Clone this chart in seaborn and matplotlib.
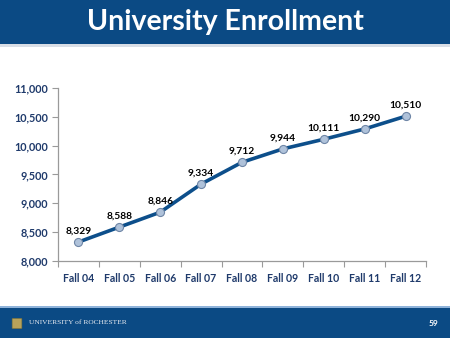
import matplotlib
matplotlib.use("Agg")
import matplotlib.pyplot as plt
import matplotlib.patches as mpatches
from matplotlib.ticker import FixedLocator, FuncFormatter
import numpy as np
import pandas as pd
import seaborn as sns

terms = ["Fall 04", "Fall 05", "Fall 06", "Fall 07", "Fall 08",
         "Fall 09", "Fall 10", "Fall 11", "Fall 12"]
enrollment = [8329, 8588, 8846, 9334, 9712, 9944, 10111, 10290, 10510]
y_ticks = [8000, 8500, 9000, 9500, 10000, 10500, 11000]

sns.set_theme(style="white")
plt.rcParams["font.family"] = ["Lato", "DejaVu Sans"]

navy = "#0B4A84"
line_blue = "#0D4F8B"
label_navy = "#1F3A6B"

df = pd.DataFrame({"term": terms, "enrollment": enrollment})
df["pos"] = np.arange(len(terms))

fig = plt.figure(figsize=(4.5, 3.38), dpi=100)
fig.patch.set_facecolor("white")

# header band
fig.patches.append(mpatches.Rectangle((0, 1 - 44 / 338), 1, 44 / 338,
                                      transform=fig.transFigure,
                                      facecolor=navy, edgecolor="none", zorder=0))
fig.patches.append(mpatches.Rectangle((0, 1 - 47 / 338), 1, 3 / 338,
                                      transform=fig.transFigure,
                                      facecolor="#D9DEE6", edgecolor="none", zorder=0))
fig.text(0.5, 1 - 22 / 338, "University Enrollment", ha="center", va="center",
         color="white", fontsize=20.5, fontweight="bold")

# footer band
fig.patches.append(mpatches.Rectangle((0, 0), 1, 30 / 338,
                                      transform=fig.transFigure,
                                      facecolor=navy, edgecolor="none", zorder=0))
fig.patches.append(mpatches.Rectangle((0, 30 / 338), 1, 2 / 338,
                                      transform=fig.transFigure,
                                      facecolor="#8FB3DA", edgecolor="none", zorder=0))
fig.patches.append(mpatches.FancyBboxPatch((13 / 450, 10 / 338), 8 / 450, 9 / 338,
                                           boxstyle="round,pad=0.002",
                                           transform=fig.transFigure,
                                           facecolor="#B8A25A", edgecolor="#6E6A3A",
                                           linewidth=0.4, zorder=1))
fig.text(29 / 450, 15 / 338, "UNIVERSITY of ROCHESTER", ha="left", va="center",
         color="#E8ECF2", fontsize=5.4, family=["Liberation Serif", "DejaVu Serif"])
fig.text(438 / 450, 15 / 338, "59", ha="right", va="center",
         color="white", fontsize=6, fontweight="bold")

ax = fig.add_axes([58 / 450, 77 / 338, 368 / 450, 173 / 338])
sns.lineplot(data=df, x="pos", y="enrollment", ax=ax, color=line_blue,
             linewidth=2.6, marker="o", markersize=5.8,
             markerfacecolor="#AFC2DA", markeredgecolor="#6F86A6",
             markeredgewidth=0.8)

ax.set_xlim(-0.5, len(terms) - 0.5)
ax.set_ylim(y_ticks[0], y_ticks[-1])
ax.set_xticks(df["pos"])
ax.set_xticklabels(terms)
ax.xaxis.set_minor_locator(FixedLocator(np.arange(-0.5, len(terms), 1.0)))
ax.set_yticks(y_ticks)
ax.yaxis.set_major_formatter(FuncFormatter(lambda v, p: f"{int(v):,}"))
ax.set_xlabel("")
ax.set_ylabel("")

for s in ["top", "right"]:
    ax.spines[s].set_visible(False)
for s in ["left", "bottom"]:
    ax.spines[s].set_color("#9A9A9A")
    ax.spines[s].set_linewidth(0.9)

ax.tick_params(axis="x", which="major", length=0, pad=9, labelsize=7.6,
               labelcolor=label_navy)
ax.tick_params(axis="x", which="minor", bottom=True, length=4, width=0.8,
               color="#9A9A9A", direction="out")
ax.tick_params(axis="y", left=True, length=4, width=0.8, color="#9A9A9A",
               direction="out", pad=3, labelsize=7.8, labelcolor=label_navy)
for lab in ax.get_xticklabels() + ax.get_yticklabels():
    lab.set_fontweight("bold")

for x, v in zip(df["pos"], enrollment):
    ax.annotate(f"{v:,}", (x, v), xytext=(0, 4.5), textcoords="offset points",
                ha="center", va="bottom", fontsize=7.4, fontweight="bold",
                color="black")

fig.savefig("out.png", dpi=100)
